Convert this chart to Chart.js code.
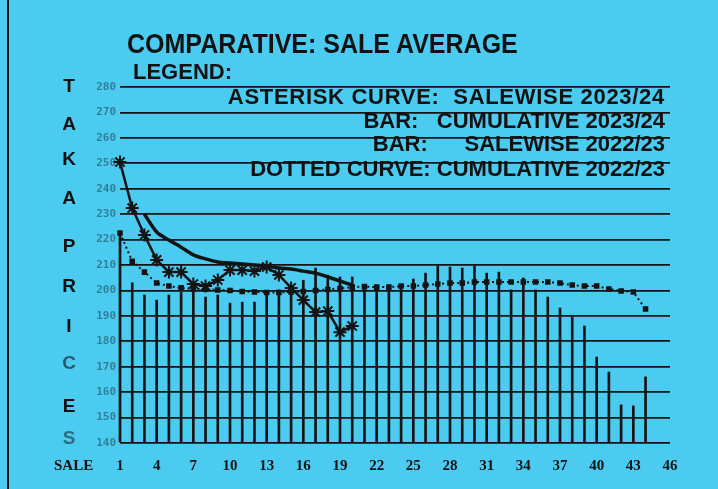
<!DOCTYPE html>
<html>
<head>
<meta charset="utf-8">
<script src="https://cdn.jsdelivr.net/npm/chart.js@4.4.0/dist/chart.umd.min.js"></script>
<style>
  html, body { margin: 0; padding: 0; }
  body { width: 718px; height: 489px; background: #4ccbf0; position: relative; overflow: hidden;
         font-family: "Liberation Sans", Arial, sans-serif; color: #111; }
  #myChart { position: absolute; left: 0; top: 0; }
  .t { position: absolute; font-weight: bold; white-space: pre; line-height: 1; }
  #title { left: 127px; top: 30px; font-size: 25px; transform: scaleY(1.1); transform-origin: left top; }
  #legendHead { left: 133px; top: 61px; font-size: 22px; }
  .leg { right: 53px; font-size: 22px; }
  .yl { left: 61px; width: 16px; text-align: center; font-size: 19px; }
  #saleLbl { left: 54px; top: 458px; font-size: 15px; font-family: "Liberation Serif", serif; }
  #edge { position: absolute; left: 7px; top: 0; width: 2px; height: 489px; background: #111; }
</style>
</head>
<body>
<div id="edge"></div>
<canvas id="myChart" width="718" height="489"></canvas>

<div class="t" id="title">COMPARATIVE: SALE AVERAGE</div>
<div class="t" id="legendHead">LEGEND:</div>
<div class="t leg" style="top:86px; letter-spacing:0.7px">ASTERISK CURVE:  SALEWISE 2023/24</div>
<div class="t leg" style="top:110px">BAR:   CUMULATIVE 2023/24</div>
<div class="t leg" style="top:133px">BAR:      SALEWISE 2022/23</div>
<div class="t leg" style="top:158px">DOTTED CURVE: CUMULATIVE 2022/23</div>

<div class="t yl" style="top:76px">T</div>
<div class="t yl" style="top:114px">A</div>
<div class="t yl" style="top:149px">K</div>
<div class="t yl" style="top:188px">A</div>
<div class="t yl" style="top:236px">P</div>
<div class="t yl" style="top:276px">R</div>
<div class="t yl" style="top:316px">I</div>
<div class="t yl" style="top:353px; opacity:0.6">C</div>
<div class="t yl" style="top:396px">E</div>
<div class="t yl" style="top:428px; opacity:0.5">S</div>
<div class="t" id="saleLbl">SALE</div>

<script>
// sale numbers on the x axis
var sales = [1, 2, 3, 4, 5, 6, 7, 8, 9, 10, 11, 12, 13, 14, 15, 16, 17, 18, 19, 20,
             21, 22, 23, 24, 25, 26, 27, 28, 29, 30, 31, 32, 33, 34, 35, 36, 37, 38, 39, 40,
             41, 42, 43, 44, 45, 46];

// asterisk curve: salewise 2023/24
var salewise2324 = [250.5, 232.4, 221.8, 212, 207.2, 207.2, 202.5, 201.7, 204.1, 208,
                    208, 207.6, 209.2, 206.1, 201, 196.2, 191.5, 191.9, 183.6, 186];

// solid curve: cumulative 2023/24
var cumulative2324 = [null, null, 230, 223, 219.8, 217, 214, 212.4, 211.2, 210.8,
                      210.4, 210, 209.6, 208.8, 208.4, 207.6, 206.8, 205.3, 203.7, 202.1];

// bars: salewise 2022/23
var salewise2223 = [222.6, 203, 198.2, 196.2, 198.2, 199.4, 199.4, 197.4, 198.2, 195,
                    195.4, 195.4, 199, 200.2, 201, 204, 208.8, 206, 205.3, 205.3,
                    202.1, 201.3, 201.3, 202.1, 204.5, 206.8, 209.6, 209.2, 208.8, 209.6,
                    206.8, 207.2, 200.2, 204.9, 200.2, 197.4, 193.1, 189.5, 186, 173.8,
                    167.9, 155, 154.6, 166];

// dotted curve: cumulative 2022/23
var cumulative2223 = [222.6, 211.5, 207.2, 202.9, 201.7, 201, 200.6, 200.5, 200.2, 200,
                      199.6, 199.4, 199.2, 199.2, 199.4, 199.6, 200, 200.4, 200.8, 201.3,
                      201.5, 201.3, 201.3, 201.7, 201.7, 202.1, 202.5, 202.9, 202.9, 203.3,
                      203.3, 203.3, 203.3, 203.3, 203.3, 203.3, 202.9, 202.1, 201.7, 201.7,
                      200.6, 199.8, 199.4, 192.7];

var yMin = 140, yMax = 280, yStep = 10;
var ink = '#141414';

var ctx = document.getElementById('myChart');
var chart = new Chart(ctx, {
    data: {
        labels: sales,
        datasets: [{
            type: 'line',
            label: 'SALEWISE 2023/24',
            data: salewise2324,
            borderColor: ink,
            borderWidth: 2.5,
            pointStyle: 'star',
            pointRadius: 6.5,
            pointBorderWidth: 2,
            pointBorderColor: ink,
            tension: 0,
            order: 1,
            clip: false
        }, {
            type: 'line',
            label: 'CUMULATIVE 2023/24',
            data: cumulative2324,
            borderColor: ink,
            borderWidth: 3.5,
            pointRadius: 0,
            tension: 0.3,
            order: 2
        }, {
            type: 'line',
            label: 'CUMULATIVE 2022/23',
            data: cumulative2223,
            borderColor: ink,
            borderWidth: 2,
            borderDash: [2, 3],
            pointStyle: 'rect',
            pointRadius: 2.5,
            pointBackgroundColor: ink,
            pointBorderColor: ink,
            tension: 0,
            order: 3
        }, {
            type: 'bar',
            label: 'SALEWISE 2022/23',
            data: salewise2223,
            base: yMin,
            backgroundColor: ink,
            barThickness: 2,
            order: 4,
            clip: false
        }]
    },
    options: {
        responsive: false,
        animation: false,
        layout: { padding: { top: 87, right: 48, bottom: 0, left: 0 } },
        plugins: {
            legend: { display: false },
            title: { display: false },
            tooltip: { enabled: false }
        },
        scales: {
            x: {
                type: 'category',
                offset: false,
                grid: { display: false, drawTicks: false },
                border: { display: false },
                ticks: {
                    autoSkip: false,
                    maxRotation: 0,
                    padding: 14,
                    color: ink,
                    font: { family: 'Liberation Serif', weight: 'bold', size: 15 },
                    callback: function(v, i) { return i % 3 === 0 ? this.getLabelForValue(v) : ''; }
                },
                afterFit: function(s) { s.height = 46; }
            },
            y: {
                min: yMin,
                max: yMax,
                ticks: {
                    stepSize: yStep,
                    padding: 4,
                    color: 'rgba(0,0,0,0.38)',
                    font: { family: 'DejaVu Sans Mono', weight: 'bold', size: 11 }
                },
                grid: { color: ink, lineWidth: 1.8, drawTicks: false },
                border: { display: false },
                afterFit: function(s) { s.width = 120; }
            }
        }
    }
});
</script>
</body>
</html>
